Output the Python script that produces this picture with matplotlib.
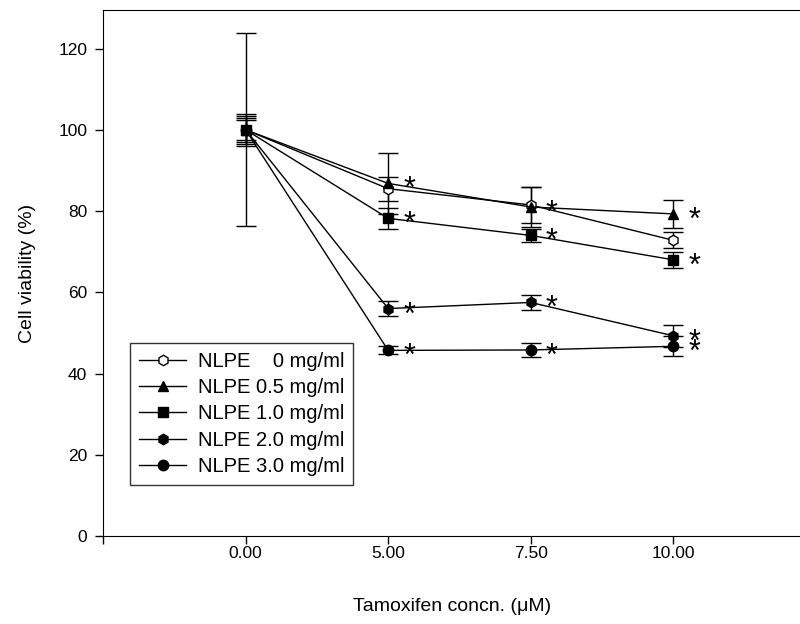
import numpy as np
import matplotlib
matplotlib.use('Agg')
import matplotlib.pyplot as plt
from matplotlib.lines import Line2D

plt.rcParams['font.family'] = ['Liberation Sans', 'DejaVu Sans']

# данные
conc_labels = ['0.00', '5.00', '7.50', '10.00']
series_names = ['NLPE    0 mg/ml', 'NLPE 0.5 mg/ml', 'NLPE 1.0 mg/ml',
                'NLPE 2.0 mg/ml', 'NLPE 3.0 mg/ml']
nlpe_0 = [100, 85.5, 81.5, 72.8]
nlpe_0_err = [23.8, 3.0, 4.5, 2.0]
nlpe_05 = [100, 86.8, 81.0, 79.3]
nlpe_05_err = [3.5, 7.5, 5.0, 3.5]
nlpe_10 = [100, 78.2, 74.0, 68.0]
nlpe_10_err = [3.0, 2.5, 1.5, 2.0]
nlpe_20 = [100, 56.0, 57.5, 49.3]
nlpe_20_err = [4.0, 1.8, 1.8, 2.7]
nlpe_30 = [100, 45.7, 45.8, 46.7]
nlpe_30_err = [2.5, 1.0, 1.8, 2.5]
# звездочки (значимость) для каждой серии
stars = [[False, False, False, False],
         [False, True, True, True],
         [False, True, True, True],
         [False, True, True, True],
         [False, True, True, True]]

values = [nlpe_0, nlpe_05, nlpe_10, nlpe_20, nlpe_30]
errors = [nlpe_0_err, nlpe_05_err, nlpe_10_err, nlpe_20_err, nlpe_30_err]
markers = ['h', '^', 's', 'h', 'o']
faces = ['white', 'black', 'black', 'black', 'black']

fig = plt.figure(figsize=(8, 6.24), dpi=100)
ax = fig.add_axes([0.129, 0.141, 0.871, 0.843])

x = np.arange(1, len(conc_labels) + 1)
handles = []
for i in range(len(values)):
    ax.errorbar(x, values[i], yerr=errors[i], color='black', lw=1,
                marker=markers[i], ms=7.5, mfc=faces[i], mec='black',
                capsize=7, elinewidth=1, capthick=1)
    handles.append(Line2D([], [], color='black', lw=1, marker=markers[i],
                          ms=7.5, mfc=faces[i], mec='black'))
    for j in range(len(x)):
        if stars[i][j]:
            ax.annotate('*', (x[j], values[i][j]), xytext=(15, -5),
                        textcoords='offset points', fontsize=22,
                        ha='center', va='center')

ax.set_xlim(0, 4.89)
ax.set_ylim(0, 129.5)
ax.set_xticks(np.arange(0, len(conc_labels) + 1))
ax.set_xticklabels([''] + conc_labels)
ax.set_yticks(np.arange(0, 121, 20))
ax.tick_params(direction='out', length=5.5, width=1, labelsize=12.5)
ax.tick_params(axis='x', pad=2)
ax.tick_params(axis='y', pad=6)
ax.spines['right'].set_visible(False)

ax.set_xlabel('Tamoxifen concn. (\u03bcM)', fontsize=14, labelpad=26)
ax.set_ylabel('Cell viability (%)', fontsize=14, labelpad=16)

leg = ax.legend(handles, series_names, loc='lower left',
                bbox_to_anchor=(0.039, 0.097), fontsize=14.5,
                frameon=True, fancybox=False, edgecolor='black',
                handlelength=2.3, handletextpad=0.6, borderpad=0.45,
                labelspacing=0.36, borderaxespad=0)
leg.get_frame().set_linewidth(1)

fig.savefig('out.png', dpi=100)
